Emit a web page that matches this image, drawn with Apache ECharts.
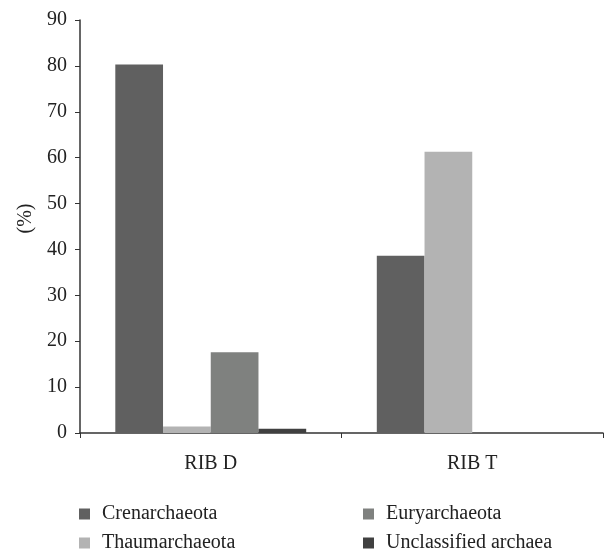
<!DOCTYPE html>
<html>
<head>
<meta charset="utf-8">
<script src="https://cdn.jsdelivr.net/npm/echarts@6/dist/echarts.min.js"></script>
<style>
html,body{margin:0;padding:0;background:#fff;}
#c{width:604px;height:551px;}
</style>
</head>
<body>
<div id="c"></div>
<script>
var categories = ['RIB D', 'RIB T'];
var seriesNames = ['Crenarchaeota', 'Thaumarchaeota', 'Euryarchaeota', 'Unclassified archaea'];
var crenarchaeota = [80.3, 38.6];
var thaumarchaeota = [1.4, 61.3];
var euryarchaeota = [17.6, 0];
var unclassified = [0.9, 0];
var yTicks = [0, 10, 20, 30, 40, 50, 60, 70, 80, 90];

var colors = ['#606060', '#b3b3b3', '#7f817f', '#404040'];
var values = [crenarchaeota, thaumarchaeota, euryarchaeota, unclassified];
var font = 'Liberation Serif';
// legend slot per series: [left, top]
var legendSlots = [[74, 499], [74, 528], [358, 499], [358, 528]];

var chart = echarts.init(document.getElementById('c'));
var series = seriesNames.map(function (n, i) {
  return {
    name: n,
    type: 'bar',
    data: values[i],
    barGap: '0%',
    barCategoryGap: '27%',
    itemStyle: { color: colors[i] },
    emphasis: { disabled: true }
  };
});

var legends = seriesNames.map(function (n, i) {
  return {
    data: [n],
    left: legendSlots[i][0],
    top: legendSlots[i][1],
    itemWidth: 11,
    itemHeight: 11,
    icon: 'rect',
    selectedMode: false,
    textStyle: { fontFamily: font, fontSize: 20, color: '#222', padding: [0, 0, 0, 7] }
  };
});

chart.setOption({
  animation: false,
  grid: { left: 80, right: 1, top: 20, bottom: 118, containLabel: false },
  legend: legends,
  xAxis: {
    type: 'category',
    data: categories,
    axisLine: { lineStyle: { color: '#333', width: 1.5 } },
    axisTick: { show: true, alignWithLabel: false, length: 5, lineStyle: { color: '#333' } },
    axisLabel: { fontFamily: font, fontSize: 20, color: '#222', margin: 21 }
  },
  yAxis: {
    type: 'value',
    min: yTicks[0],
    max: yTicks[yTicks.length - 1],
    interval: 10,
    name: '(%)',
    nameLocation: 'middle',
    nameGap: 44,
    nameRotate: 90,
    nameTextStyle: { fontFamily: font, fontSize: 20, color: '#222', padding: [0, 0, 0, 16] },
    splitLine: { show: false },
    axisLine: { show: true, lineStyle: { color: '#333', width: 1.5 } },
    axisTick: { show: true, length: 5, lineStyle: { color: '#333' } },
    axisLabel: { fontFamily: font, fontSize: 20, color: '#222', margin: 13 }
  },
  series: series
});
</script>
</body>
</html>
